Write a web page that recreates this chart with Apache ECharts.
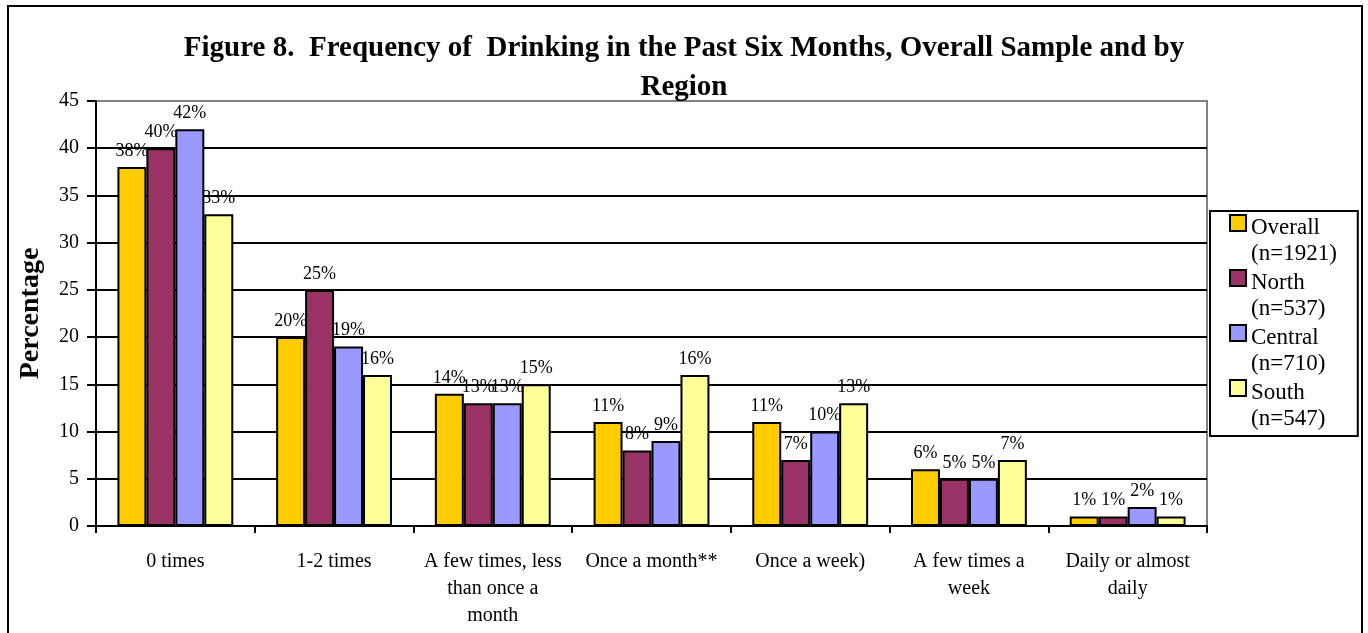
<!DOCTYPE html>
<html lang="en">
<head>
  <meta charset="UTF-8" />
  <title>Figure 8. Frequency of Drinking</title>
  <script src="https://cdn.jsdelivr.net/npm/echarts@6/dist/echarts.min.js"></script>
  <style>
    body {
      margin: 0;
      background: #fff;
    }
    #chart {
      width: 1368px;
      height: 633px;
    }
  </style>
</head>
<body>
  <div id="chart"></div>
  <script>
    const categories = [
      '0 times',
      '1-2 times',
      'A few times, less\nthan once a\nmonth',
      'Once a month**',
      'Once a week)',
      'A few times a\nweek',
      'Daily or almost\ndaily'
    ];
    const seriesNames = ['Overall', 'North', 'Central', 'South'];
    const sampleSizes = ['(n=1921)', '(n=537)', '(n=710)', '(n=547)'];
    const overall = [38, 20, 14, 11, 11, 6, 1];
    const north = [40, 25, 13, 8, 7, 5, 1];
    const central = [42, 19, 13, 9, 10, 5, 2];
    const south = [33, 16, 15, 16, 13, 7, 1];
    const yTicks = [0, 5, 10, 15, 20, 25, 30, 35, 40, 45];

    const colors = ['#FFCC00', '#993366', '#9999FF', '#FFFF99'];
    const serif = '"Liberation Serif", "Times New Roman", serif';
    const allValues = [overall, north, central, south];

    const chart = echarts.init(document.getElementById('chart'));

    // top gridline is the gray plot-area border, others black
    const splitColors = yTicks.map((t, i) => i === yTicks.length - 1 ? '#808080' : '#000');

    chart.setOption({
      animation: false,
      textStyle: { fontFamily: serif, color: '#000' },
      title: {
        text: 'Figure 8.  Frequency of  Drinking in the Past Six Months, Overall Sample and by\nRegion',
        left: 'center',
        top: 24,
        textStyle: { fontFamily: serif, fontSize: 29, fontWeight: 'bold', lineHeight: 39, color: '#000' }
      },
      graphic: [{
        type: 'rect',
        shape: { x: 8, y: 6, width: 1354, height: 640 },
        style: { fill: 'none', stroke: '#000', lineWidth: 2 },
        silent: true
      }],
      legend: {
        orient: 'vertical',
        left: 1210,
        top: 211,
        padding: [3, 21, 3, 19],
        itemGap: 1,
        itemWidth: 16,
        itemHeight: 52,
        icon: 'path://M0,0H16V16H0Z M0,52L0.01,52',
        borderColor: '#000',
        borderWidth: 2,
        backgroundColor: '#fff',
        data: seriesNames,
        formatter: name => name + '\n' + sampleSizes[seriesNames.indexOf(name)],
        textStyle: { fontFamily: serif, fontSize: 23, lineHeight: 26.5, color: '#000' }
      },
      grid: {
        left: 96,
        right: 161,
        top: 101,
        bottom: 107,
        show: true,
        borderColor: '#808080',
        borderWidth: 2,
        containLabel: false
      },
      xAxis: {
        type: 'category',
        data: categories,
        axisLine: { lineStyle: { color: '#000', width: 2 } },
        axisTick: { show: true, length: 7, lineStyle: { color: '#000', width: 2 } },
        axisLabel: {
          interval: 0,
          margin: 22,
          fontFamily: serif,
          fontSize: 20,
          lineHeight: 27,
          color: '#000'
        }
      },
      yAxis: {
        type: 'value',
        min: 0,
        max: 45,
        interval: 5,
        name: 'Percentage',
        nameLocation: 'middle',
        nameGap: 51,
        nameTextStyle: { fontFamily: serif, fontSize: 28, fontWeight: 'bold', color: '#000' },
        axisLine: { show: true, lineStyle: { color: '#000', width: 2 } },
        axisTick: { show: true, length: 9, lineStyle: { color: '#000', width: 2 } },
        axisLabel: { fontFamily: serif, fontSize: 20, color: '#000', margin: 17 },
        splitLine: { show: true, lineStyle: { color: splitColors, width: 2 } }
      },
      series: seriesNames.map((name, i) => ({
        name,
        type: 'bar',
        data: allValues[i],
        barGap: '0%',
        barCategoryGap: '27%',
        itemStyle: { color: colors[i], borderColor: '#000', borderWidth: 2 },
        label: {
          show: true,
          position: 'top',
          distance: 7,
          formatter: '{c}%',
          fontFamily: serif,
          fontSize: 18,
          color: '#000'
        }
      }))
    });
  </script>
</body>
</html>
